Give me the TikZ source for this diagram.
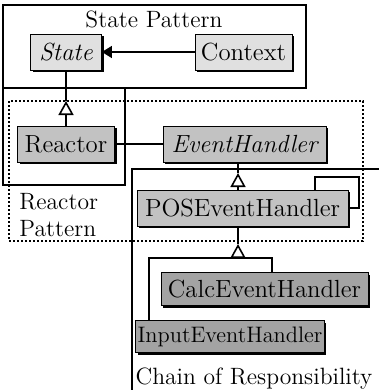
\documentclass[tikz,border=0pt]{standalone}
\usepackage{tikz}
\usetikzlibrary{arrows.meta,positioning,calc,shadows}
\definecolor{litegray}{gray}{0.88}
\definecolor{midgray}{gray}{0.76}
\definecolor{darkgray}{gray}{0.64}
\tikzset{
  cls/.style={draw, thin, minimum height=18pt, inner sep=1pt, font=\fontsize{12.4}{14}\selectfont,
    drop shadow={shadow xshift=1pt, shadow yshift=-1pt, fill=black, opacity=1}},
  frame/.style={draw, line width=0.6pt},
  dotframe/.style={draw, line width=1pt, dash pattern=on 1pt off 1pt},
  link/.style={line width=0.8pt},
  inherit/.style={line width=0.8pt, -{Triangle[open, length=7pt, width=7.5pt]}},
  assoc/.style={line width=0.8pt, -{Triangle[length=5pt, width=6pt]}},
  lbl/.style={font=\fontsize{11.8}{13.4}\selectfont, inner sep=0pt},
}

\begin{document}
\begin{tikzpicture}[x=0.5pt, y=-0.5pt]
 \useasboundingbox (0,0) rectangle (379,390);
 % pattern frames
 \draw[frame] (3,5) rectangle (306,88);
 \draw[frame] (3,88) rectangle (125,185);
 \draw[dotframe] (9,101) rectangle (363,241);
 \draw[frame] (132,390) -- (132,169) -- (379,169);
 \node[lbl] (statelbl) at (154,19) {State Pattern};
 \node[lbl, align=left, anchor=north west] (reactorlbl) at (19,193) {Reactor\\Pattern};
 \node[lbl] (corlbl) at (254,379) {Chain of Responsibility};
 % classes
 \node[cls, fill=litegray, minimum width=35.5pt] (State) at (66,52) {\itshape State};
 \node[cls, fill=litegray, minimum width=48.5pt] (Context) at (243.5,52) {Context};
 \node[cls, fill=midgray, minimum width=48.5pt] (Reactor) at (66,144) {Reactor};
 \node[cls, fill=midgray, minimum width=81.5pt] (EventHandler) at (244.5,144) {\itshape EventHandler};
 \node[cls, fill=midgray, minimum width=105.5pt] (POS) at (242.5,208) {POSEventHandler};
 \node[cls, fill=darkgray, minimum width=103.5pt, minimum height=16.5pt] (Calc) at (264.5,289) {CalcEventHandler};
 \node[cls, fill=darkgray, minimum width=94pt, minimum height=16pt, font=\fontsize{11.2}{13}\selectfont] (Input) at (230,336.5) {InputEventHandler};
 % connectors
 \draw[assoc] (Context) -- (State);
 \draw[link] (Reactor) -- (EventHandler);
 \coordinate (rtip) at (66,101);
 \draw[inherit] (Reactor) -- (rtip);
 \draw[link] (rtip) -- (State);
 \coordinate (etip) at (238,173);
 \draw[inherit] (POS.north -| etip) -- (etip);
 \draw[link] (etip) -- (EventHandler.south -| etip);
 \coordinate (ptip) at (238,244);
 \coordinate (pfork) at (238,258);
 \coordinate (fi) at (149,258);
 \coordinate (fc) at (272,258);
 \draw[inherit] (pfork) -- (ptip);
 \draw[link] (ptip) -- (POS.south -| ptip);
 \draw[link] (Input.north -| fi) -- (fi) -- (fc) -- (Calc.north -| fc);
 % self loop
 \coordinate (lp1) at (315,177);
 \coordinate (lp2) at (359,177);
 \draw[link] (POS.north -| lp1) -- (lp1) -- (lp2) |- (POS.east);
\end{tikzpicture}
\end{document}
